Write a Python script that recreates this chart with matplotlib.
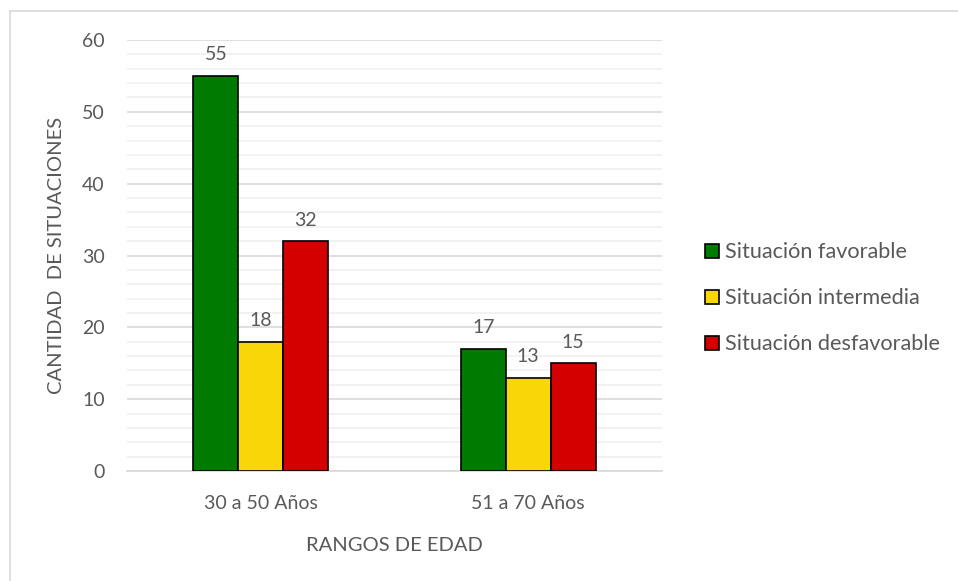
import matplotlib.pyplot as plt
import numpy as np
from matplotlib.lines import Line2D

plt.rcParams['font.family'] = ['Lato', 'DejaVu Sans']

rangos = ['30 a 50 Años', '51 a 70 Años']
series = ['Situación favorable', 'Situación intermedia', 'Situación desfavorable']
favorable = [55, 17]
intermedia = [18, 13]
desfavorable = [32, 15]
colores = ['#007A00', '#F9D608', '#D40000']

gris = '#595959'

fig = plt.figure(figsize=(9.58, 5.81), dpi=100)
ax = fig.add_axes([0.1326, 0.1893, 0.5584, 0.7418])

x = np.arange(len(rangos))
w = 0.168
for i, (vals, nombre) in enumerate(zip([favorable, intermedia, desfavorable], series)):
    barras = ax.bar(x + (i - 1) * w, vals, w, color=colores[i], edgecolor='black',
                    linewidth=1.2, label=nombre, zorder=3)
    ax.bar_label(barras, padding=9, fontsize=14, color=gris)

ax.set_xlim(-0.5, 1.5)
ax.set_ylim(0, 60)
ax.set_yticks(range(0, 61, 10))
ax.set_yticks(range(0, 61, 2), minor=True)
ax.grid(axis='y', which='major', color='#D9D9D9', linewidth=1.2, zorder=0)
ax.grid(axis='y', which='minor', color='#F0F0F0', linewidth=1.2, zorder=0)
ax.set_xticks(x)
ax.set_xticklabels(rangos)
ax.tick_params(axis='both', which='both', length=0, labelsize=14, colors=gris)
ax.tick_params(axis='x', pad=17)
ax.tick_params(axis='y', pad=16)
for s in ['top', 'right', 'left']:
    ax.spines[s].set_visible(False)
ax.spines['bottom'].set_color('#D9D9D9')
ax.spines['bottom'].set_linewidth(1.2)

ax.set_xlabel('RANGOS DE EDAD', fontsize=14.5, color=gris, labelpad=18)
ax.set_ylabel('CANTIDAD  DE SITUACIONES', fontsize=14.5, color=gris, labelpad=12)

ax.legend(loc='center left', bbox_to_anchor=(1.065, 0.401), frameon=False, fontsize=15.6,
          labelcolor=gris, handlelength=0.62, handleheight=0.62, handletextpad=0.3,
          labelspacing=1.2, borderaxespad=0)

# borde del área del gráfico (arriba e izquierda)
fig.add_artist(Line2D([10 / 958, 10 / 958], [0, 1 - 11 / 581], transform=fig.transFigure,
                      color='#D9D9D9', linewidth=1.2))
fig.add_artist(Line2D([10 / 958, 1], [1 - 11 / 581, 1 - 11 / 581], transform=fig.transFigure,
                      color='#D9D9D9', linewidth=1.2))

fig.savefig('out.png', dpi=100, facecolor='white')
